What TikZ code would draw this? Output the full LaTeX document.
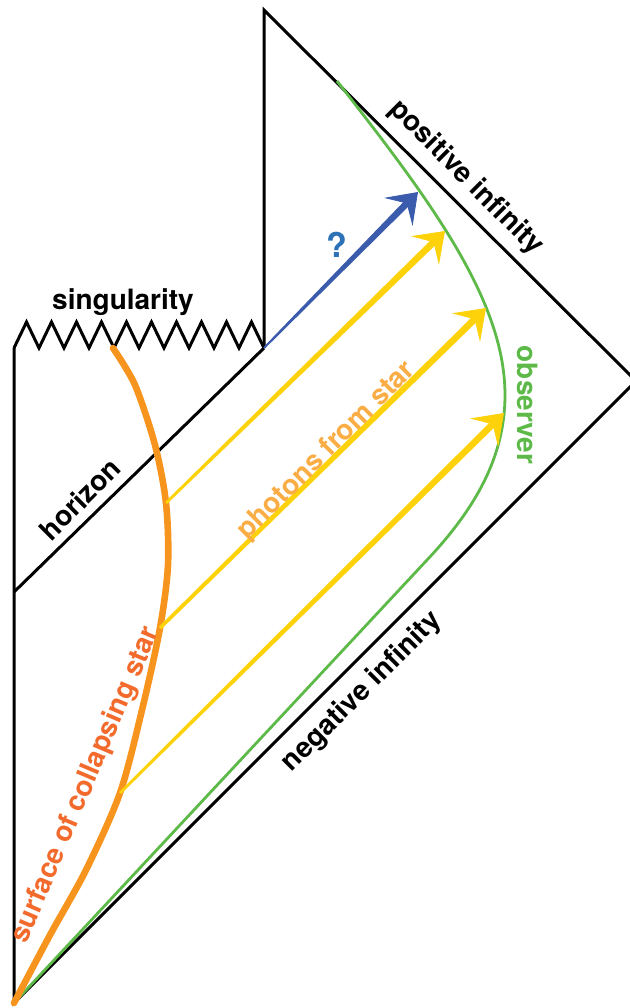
\documentclass[tikz,border=0pt]{standalone}
\usepackage{fontspec}
\setmainfont{TeX Gyre Heros}
\usetikzlibrary{arrows.meta,calc}
\definecolor{pdorange}{HTML}{F7941D}
\definecolor{pdsurf}{HTML}{F26B2C}
\definecolor{pdphot}{HTML}{FBAD45}
\definecolor{pdyellow}{HTML}{FDD20A}
\definecolor{pdgreen}{HTML}{5DB948}
\definecolor{pdblue}{HTML}{3B5BAD}
\definecolor{pdquery}{HTML}{2D72B7}
\tikzset{
  boundary/.style={draw=black, line width=1.5pt, line join=miter},
  starline/.style={draw=pdorange, line width=3.3pt, line cap=round},
  obsline/.style={draw=pdgreen, line width=1.4pt},
  pdtext/.style={font=\bfseries\fontsize{14}{16}\selectfont, inner sep=0pt}
}
% tapered ray with a stealth head: from, to, colour, start half-width
\newcommand{\lightray}[4]{%
  \coordinate (rayend) at ($(#2)!7pt!(#1)$);
  \fill[#3] ($(#1)!#4!90:(#2)$) -- ($(rayend)!1.7pt!-90:(#1)$)
    -- ($(rayend)!1.7pt!90:(#1)$) -- ($(#1)!#4!-90:(#2)$) -- cycle;
  \draw[#3, line width=0.4pt, -{Stealth[length=14pt, width=20pt, inset=6pt]}] (rayend) -- (#2);
}
\begin{document}
\begin{tikzpicture}[x=0.5pt, y=-0.5pt]
  \useasboundingbox (0,0) rectangle (629,1008);
  % corners of the diagram
  \coordinate (origin) at (14,1003);
  \coordinate (singl) at (14,348);
  \coordinate (singr) at (264,348);
  \coordinate (top) at (264,10);
  \coordinate (right) at (636,381);
  \coordinate (hz) at (14,592);
  % where the photons leave and arrive
  \coordinate (s1) at (166,503);
  \coordinate (s2) at (160,628);
  \coordinate (s3) at (120,793);
  \coordinate (t1) at (445,231);
  \coordinate (t2) at (486,308);
  \coordinate (t3) at (504,413);
  \coordinate (tq) at (418,192);

  \draw[boundary] (singr) -- (top) -- (right) -- (origin) -- (singl);
  \draw[boundary] (singl) \foreach \k in {0,...,9} { -- ++(12.5,-26) -- ++(12.5,26) };
  \draw[boundary] (hz) -- (singr);

  \draw[obsline] (origin) -- (427,560) .. controls (477,507) and (505,455) .. (505,395)
    .. controls (505,300) and (430,200) .. (337,81);
  \draw[starline] plot[smooth] coordinates {(113,348) (135,385) (155,445) (s1)
    (168,565) (s2) (142,710) (s3) (86,870) (50,935) (origin)};

  \lightray{singr}{tq}{pdblue}{0.5pt}
  \lightray{s1}{t1}{pdyellow}{0.7pt}
  \lightray{s2}{t2}{pdyellow}{0.9pt}
  \lightray{s3}{t3}{pdyellow}{0.7pt}

  \node[pdtext] (sing) at (123,302) {singularity};
  \node[pdtext, rotate=-45] (posinf) at (466,178) {positive infinity};
  \node[pdtext, rotate=45] (horizon) at (80,499) {horizon};
  \node[pdtext, rotate=45] (neginf) at (362,692) {negative infinity};
  \node[pdtext, rotate=45, text=pdphot] (photons) at (327,451) {photons from star};
  \node[pdtext, rotate=-90, text=pdgreen] (observer) at (528,405) {observer};
  \node[pdtext, rotate=67, text=pdsurf] (surface) at (86,785) {surface of collapsing star};
  \node[pdtext, text=pdquery, font=\bfseries\fontsize{17}{19}\selectfont] (query) at (337,245) {?};
\end{tikzpicture}
\end{document}
